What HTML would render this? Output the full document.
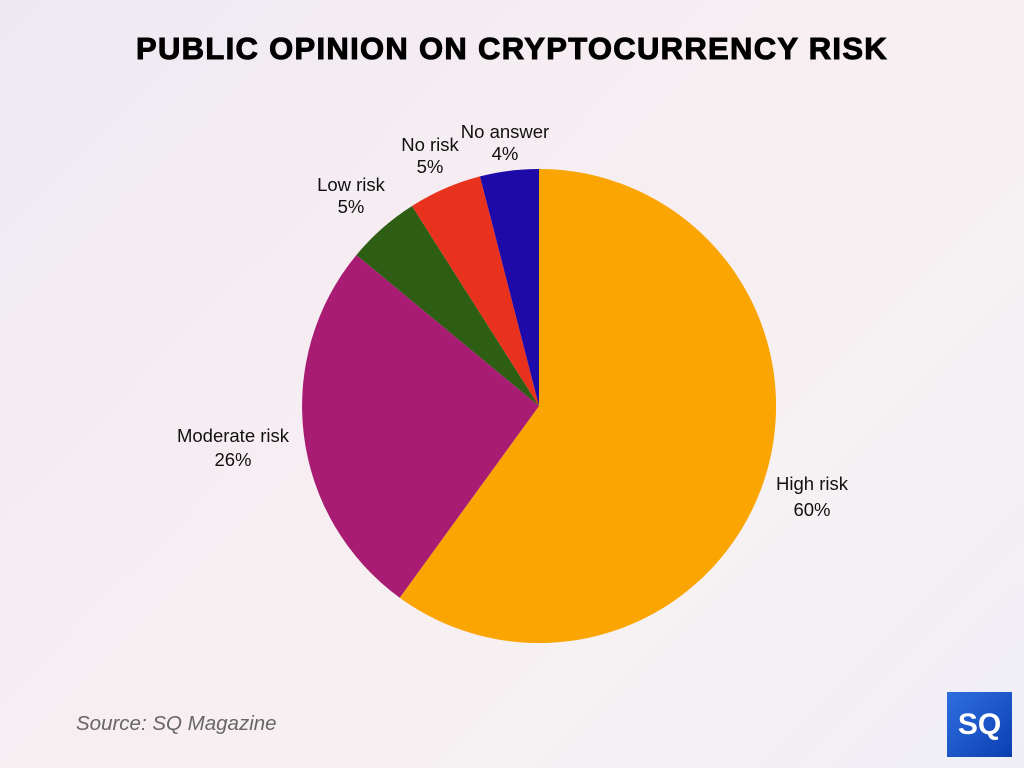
<!DOCTYPE html>
<html><head><meta charset="utf-8"><style>
html,body{margin:0;padding:0}
body{width:1024px;height:768px;overflow:hidden;position:relative;font-family:"Liberation Sans",sans-serif;
background:linear-gradient(135deg,#eeeaf3 0%,#f7eef2 45%,#f6f1f3 70%,#efeef6 100%);}
.title{position:absolute;top:31px;left:0;width:1024px;text-align:center;font-weight:900;font-size:31px;letter-spacing:1.3px;color:#000;-webkit-text-stroke:1px #000}
.src{position:absolute;left:76px;top:712px;font-style:italic;font-size:20.5px;color:#666}
.logo{position:absolute;left:947px;top:692px;width:65px;height:65px;background:linear-gradient(135deg,#2f6fe0,#0b3fb0);color:#fff;font-weight:bold;font-size:30px;line-height:65px;text-align:center}
</style></head><body>
<div class="title">PUBLIC OPINION ON CRYPTOCURRENCY RISK</div>
<svg width="1024" height="768" style="position:absolute;left:0;top:0">
<path d="M539,406 L539,169 A237,237 0 1 1 399.7,597.7 Z" fill="#FBA502"/>
<path d="M539,406 L399.7,597.7 A237,237 0 0 1 356.4,255 Z" fill="#A81C74"/>
<path d="M539,406 L356.4,255 A237,237 0 0 1 412,206 Z" fill="#2E5E14"/>
<path d="M539,406 L412,206 A237,237 0 0 1 480,176.4 Z" fill="#E8321E"/>
<path d="M539,406 L480,176.4 A237,237 0 0 1 539,169 Z" fill="#1D0AA8"/>
<g font-family="Liberation Sans, sans-serif" font-size="18.5" fill="#111" text-anchor="middle">
<text x="812" y="490">High risk</text><text x="812" y="516">60%</text>
<text x="233" y="442">Moderate risk</text><text x="233" y="466">26%</text>
<text x="351" y="191">Low risk</text><text x="351" y="213">5%</text>
<text x="430" y="151">No risk</text><text x="430" y="173">5%</text>
<text x="505" y="138">No answer</text><text x="505" y="160">4%</text>
</g>
</svg>
<div class="src">Source: SQ Magazine</div>
<div class="logo">SQ</div>
</body></html>
